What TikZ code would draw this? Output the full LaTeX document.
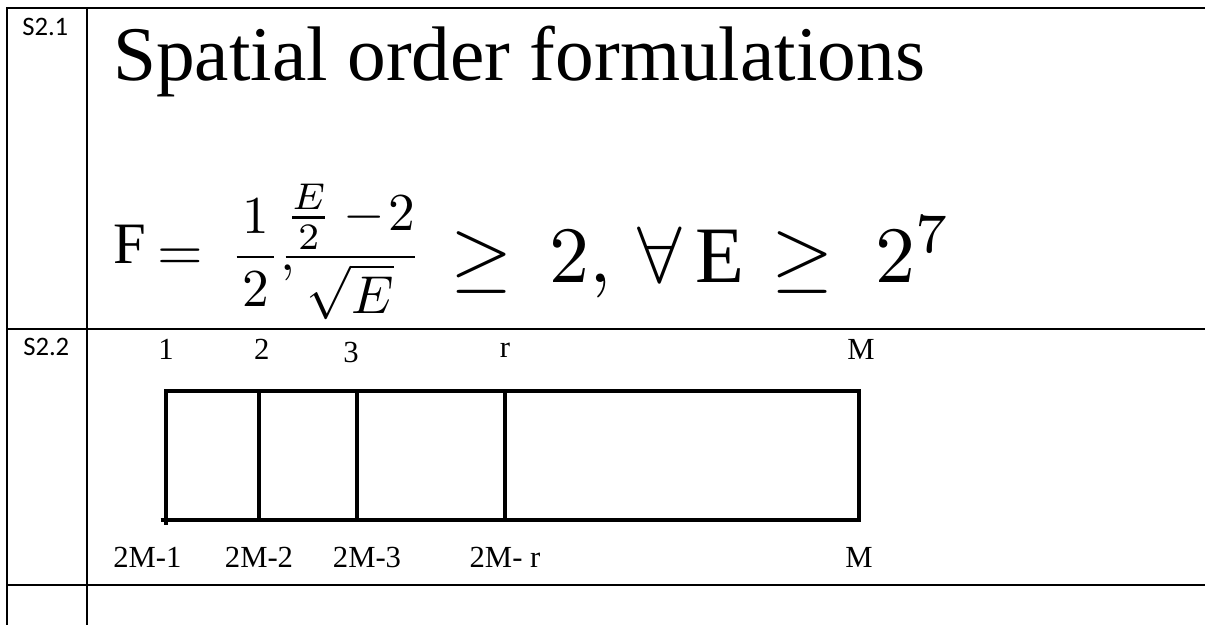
\documentclass[tikz,border=0pt]{standalone}
\usepackage{amsmath}
\usepackage{graphicx}
\usepackage{fontspec}
\setmainfont{Liberation Serif}
\newfontfamily\tagfont{Carlito}
\usepackage{tikz}
\usetikzlibrary{positioning}
\definecolor{gridink}{HTML}{000000}
\tikzset{
  tabline/.style  = {draw=gridink, line width=1.9pt},
  cellline/.style = {draw=gridink, line width=3pt},
  cellbox/.style  = {rectangle, draw=gridink, line width=3pt,
                     minimum height=96.75pt, inner sep=0pt, outer sep=0pt},
  rowtag/.style   = {font=\tagfont\fontsize{20}{24}\selectfont,
                     inner sep=0pt, anchor=base west},
  headline/.style = {font=\fontsize{58}{70}\selectfont,
                     inner sep=0pt, anchor=base west},
  eqtext/.style   = {font=\fontsize{44}{52}\selectfont,
                     inner sep=0pt, anchor=base west},
  eqmath/.style   = {inner sep=0pt, anchor=base west},
  idx/.style      = {font=\fontsize{23}{28}\selectfont, inner sep=0pt},
}

\begin{document}
\begin{tikzpicture}[x=0.75pt, y=-0.75pt]
  \useasboundingbox (0,0) rectangle (1205,625);

  % ----- table rules -----
  \draw[tabline] (1205,8) -- (7,8) -- (7,625);
  \draw[tabline] (87,8) -- (87,625);
  \draw[tabline] (7,329) -- (1205,329);
  \draw[tabline] (7,585) -- (1205,585);

  % ----- S2.1: formulation -----
  \node[rowtag] (tag1) at (22,35) {S2.1};
  \node[headline] (head) at (113,80) {Spatial order formulations};

  \node[eqtext] (fname) at (113,263) {F};
  \node[eqmath] (fequal) at (157,270) {\scalebox{4.4}{$=$}};
  \node[eqmath] (fhalf) at (230,270) {\scalebox{4}{$\dfrac{\hspace{1pt}1\hspace{1pt}}{2},$}};
  \node[eqmath] (fratio) at (279,270) {\scalebox{4}{$\dfrac{\frac{E}{2}-\!2}{\sqrt{E}}$}};
  \node[eqmath] (fbound) at (450,282)
       {\scalebox{6}{$\geq\hspace{1.9pt}2,\hspace{1.5pt}\forall\hspace{1.7pt}\mathrm{E}\hspace{0.65pt}\geq\hspace{2.4pt}2^{7}$}};

  % ----- S2.2: index strip -----
  \node[rowtag] (tag2) at (23,355) {S2.2};

  \node[cellbox, minimum width=69.75pt, anchor=north west] (c1) at (166,391) {};
  \node[cellbox, minimum width=73.5pt, right=0pt of c1] (c2) {};
  \node[cellbox, minimum width=111pt, right=0pt of c2] (c3) {};
  \node[cellbox, minimum width=265.5pt, right=0pt of c3] (c4) {};
  \draw[cellline] ([xshift=-4pt]c1.south west) -- (c1.south west)
                  -- ([yshift=-3.5pt]c1.south west);

  \node[idx, above=23.25pt of c1.north west] (t1) {1};
  \node[idx, above=23.25pt of c2.north west, xshift=2pt] (t2) {2};
  \node[idx, above=21pt of c3.north west, xshift=-4.5pt] (t3) {3};
  \node[idx, above=24.75pt of c4.north west] (tr) {r};
  \node[idx, above=23.25pt of c4.north east, xshift=1.5pt] (tm) {M};

  \node[idx, below=20pt of c1.south west, xshift=-14pt] (b1) {2M-1};
  \node[idx, below=20pt of c2.south west] (b2) {2M-2};
  \node[idx, below=20pt of c3.south west, xshift=7.5pt] (b3) {2M-3};
  \node[idx, below=20pt of c4.south west] (br) {2M- r};
  \node[idx, below=20pt of c4.south east] (bm) {M};

\end{tikzpicture}
\end{document}
